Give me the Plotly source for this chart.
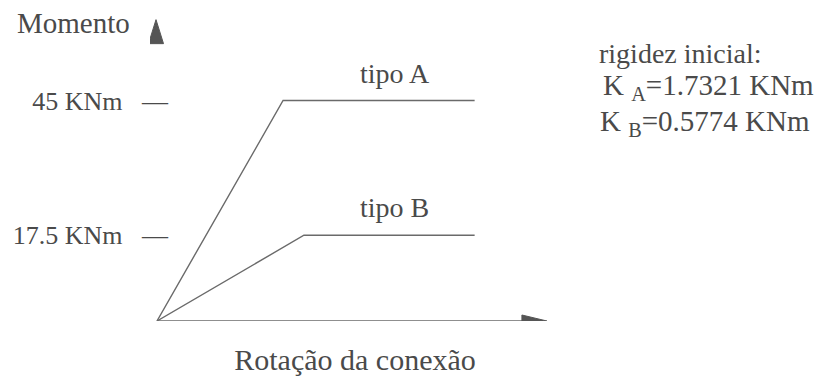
import plotly.graph_objects as go

# ---- data ----
rotation_A = [0, 26.0, 65.5]
moment_A = [0, 45, 45]
rotation_B = [0, 30.3, 65.5]
moment_B = [0, 17.5, 17.5]
tick_values = [17.5, 45]
tick_labels = ["17.5 KNm\u00a0\u00a0\u00a0\u2014", "45 KNm\u00a0\u00a0\u00a0\u2014"]
axis_x_end = 80.4      # tip of rotation axis arrow
axis_y_end = 61.5      # tip of moment axis arrow
series_names = ["tipo A", "tipo B"]
stiffness_lines = ["rigidez inicial:", "K <sub>A</sub>=1.7321 KNm", "K <sub>B</sub>=0.5774 KNm"]

FONT = "Liberation Serif"
TXT = "#4a4a4a"
LINE = "#6a6a6a"

fig = go.Figure()
fig.add_trace(go.Scatter(x=rotation_A, y=moment_A, mode="lines", name=series_names[0],
                         line=dict(color=LINE, width=1.4), cliponaxis=False, showlegend=False))
fig.add_trace(go.Scatter(x=rotation_B, y=moment_B, mode="lines", name=series_names[1],
                         line=dict(color=LINE, width=1.4), cliponaxis=False, showlegend=False))
# rotation axis line
fig.add_trace(go.Scatter(x=[0, axis_x_end - 4], y=[0, 0], mode="lines",
                         line=dict(color=LINE, width=1.4), cliponaxis=False, showlegend=False))

shapes = [
    dict(type="path", xref="x", yref="y", xsizemode="pixel", ysizemode="pixel",
         xanchor=axis_x_end, yanchor=0, path="M0,0 L-25,-6 L-25,6 Z",
         fillcolor="#555555", line=dict(color="#555555", width=1)),
    dict(type="path", xref="x", yref="y", xsizemode="pixel", ysizemode="pixel",
         xanchor=-0.2, yanchor=axis_y_end, path="M0,0 L-7.5,-24 L7.5,-24 Z",
         fillcolor="#555555", line=dict(color="#555555", width=1)),
]

annotations = [
    dict(x=-0.044, y=0.958, xref="paper", yref="paper", text="Momento", showarrow=False,
         xanchor="right", yanchor="middle", font=dict(family=FONT, size=29, color=TXT)),
    dict(x=49, y=moment_A[1], xref="x", yref="y", text=series_names[0], showarrow=False,
         xanchor="center", yanchor="bottom", yshift=10, font=dict(family=FONT, size=28, color=TXT)),
    dict(x=49, y=moment_B[1], xref="x", yref="y", text=series_names[1], showarrow=False,
         xanchor="center", yanchor="bottom", yshift=10, font=dict(family=FONT, size=28, color=TXT)),
    dict(x=1.09, y=0.860, xref="paper", yref="paper", text=stiffness_lines[0], showarrow=False,
         xanchor="left", yanchor="middle", font=dict(family=FONT, size=28, color=TXT)),
    dict(x=1.10, y=0.752, xref="paper", yref="paper", text=stiffness_lines[1], showarrow=False,
         xanchor="left", yanchor="middle", font=dict(family=FONT, size=29, color=TXT)),
    dict(x=1.092, y=0.636, xref="paper", yref="paper", text=stiffness_lines[2], showarrow=False,
         xanchor="left", yanchor="middle", font=dict(family=FONT, size=29, color=TXT)),
]

fig.update_layout(
    width=828, height=377,
    margin=dict(l=142, r=276, t=2, b=64, autoexpand=False),
    paper_bgcolor="white", plot_bgcolor="white",
    shapes=shapes, annotations=annotations,
    font=dict(family=FONT, size=28, color=TXT),
    xaxis=dict(range=[-1.44, 83.1], showgrid=False, zeroline=False, showline=False,
               showticklabels=False, ticks="", automargin=False,
               title=dict(text="Rota\u00e7\u00e3o da conex\u00e3o", standoff=27,
                          font=dict(family=FONT, size=30, color=TXT))),
    yaxis=dict(range=[0, 63.47], showgrid=False, zeroline=False, showline=False,
               anchor="free", position=0.044, ticks="", automargin=False,
               tickvals=tick_values, ticktext=tick_labels,
               tickfont=dict(family=FONT, size=26, color=TXT)),
)

fig.write_html("out.html")
